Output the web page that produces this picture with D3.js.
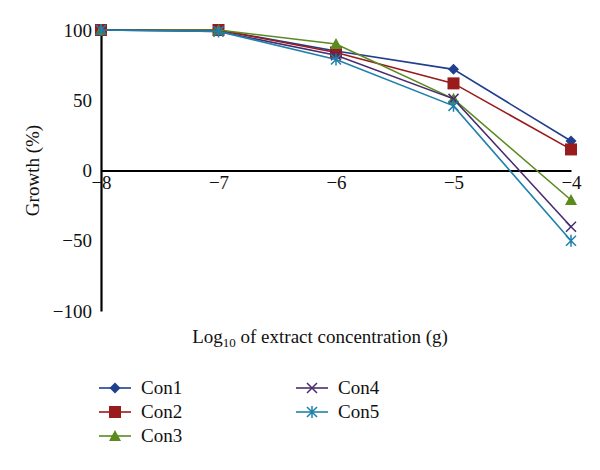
<!DOCTYPE html>
<html><head><meta charset="utf-8">
<script src="https://cdn.jsdelivr.net/npm/d3@7"></script>
<style>body{margin:0;background:#fff}svg{display:block}svg text{font-family:'Liberation Serif','DejaVu Serif',serif !important;fill:#111}</style>
</head><body><svg id="c" width="600" height="470"></svg>
<script>
const xValues = [-8, -7, -6, -5, -4];
const yTicks = [100, 50, 0, -50, -100];
const seriesNames = ["Con1", "Con2", "Con3", "Con4", "Con5"];
const con1 = [100, 100, 85, 72, 21];
const con2 = [100, 100, 84, 62, 15];
const con3 = [100, 100, 90, 51, -21];
const con4 = [100, 99, 82, 51, -40];
const con5 = [100, 99, 79, 46, -50];
const colors = ["#1f3f8f", "#9a1b1b", "#5b8a1f", "#4a2c6e", "#1f80ab"];
const symbols = ["diamond", "square", "triangle", "x", "star"];
const allSeries = [con1, con2, con3, con4, con5];
const FONT = "'Liberation Serif', 'DejaVu Serif', serif";
const FS = 19;

const svg = d3.select("#c");
const x = d3.scaleLinear().domain([-8, -4]).range([101, 571]);
const y = d3.scaleLinear().domain([-100, 100]).range([311, 30]);

// y axis
const yAxis = d3.axisLeft(y).tickValues(yTicks).tickSize(0).tickPadding(9).tickFormat(d => d < 0 ? "\u2212" + Math.abs(d) : d);
const gy = svg.append("g").attr("transform", `translate(${x(-8)},0)`).call(yAxis);
gy.attr("font-family", FONT).attr("font-size", FS);
gy.select(".domain").attr("stroke", "#000").attr("stroke-width", 2.2);
gy.selectAll("text").style("font-family", FONT).attr("font-size", FS).attr("fill", "#111");

// x axis along zero
const xAxis = d3.axisBottom(x).tickValues(xValues).tickSize(0).tickPadding(5).tickFormat(d => "\u2212" + Math.abs(d));
const gx = svg.append("g").attr("transform", `translate(0,${y(0)})`).call(xAxis);
gx.attr("font-family", FONT).attr("font-size", FS);
gx.select(".domain").attr("stroke", "#000").attr("stroke-width", 2);
gx.selectAll("text").style("font-family", FONT).attr("font-size", FS).attr("fill", "#111");

// axis titles
svg.append("text").attr("transform", `translate(39,${y(0)}) rotate(-90)`).attr("text-anchor", "middle")
  .style("font-family", FONT).attr("font-size", FS).text("Growth (%)");
const xt = svg.append("text").attr("x", 320).attr("y", 343).attr("text-anchor", "middle").style("font-family", FONT).attr("font-size", FS);
xt.append("tspan").text("Log");
xt.append("tspan").attr("font-size", 13).attr("dy", 4).text("10");
xt.append("tspan").attr("dy", -4).text(" of extract concentration (g)");

function drawMarker(g, type, color, cx, cy) {
  const m = g.append("g").attr("transform", `translate(${cx},${cy})`);
  if (type === "diamond") {
    m.append("path").attr("d", "M0,-5.5L5.5,0L0,5.5L-5.5,0Z").attr("fill", color);
  } else if (type === "square") {
    m.append("rect").attr("x", -6).attr("y", -6).attr("width", 12).attr("height", 12).attr("fill", color);
  } else if (type === "triangle") {
    m.append("path").attr("d", "M0,-6L6,5L-6,5Z").attr("fill", color);
  } else if (type === "x") {
    m.append("path").attr("d", "M-5,-5L5,5M-5,5L5,-5").attr("stroke", color).attr("stroke-width", 1.5);
  } else {
    m.append("path").attr("d", "M-5,-5L5,5M-5,5L5,-5M0,-6L0,6").attr("stroke", color).attr("stroke-width", 1.5);
  }
}

const line = d3.line().x((d, i) => x(xValues[i])).y(d => y(d));
allSeries.forEach((s, k) => {
  const g = svg.append("g");
  g.append("path").attr("d", line(s)).attr("fill", "none").attr("stroke", colors[k]).attr("stroke-width", 1.6);
  s.forEach((v, i) => drawMarker(g, symbols[k], colors[k], x(xValues[i]), y(v)));
});

// legend
const legPos = [[99, 388], [99, 412], [99, 436], [296, 388], [296, 412]];
seriesNames.forEach((n, k) => {
  const [lx, ly] = legPos[k];
  const g = svg.append("g");
  g.append("line").attr("x1", lx).attr("x2", lx + 32).attr("y1", ly).attr("y2", ly).attr("stroke", colors[k]).attr("stroke-width", 1.6);
  drawMarker(g, symbols[k], colors[k], lx + 16, ly);
  g.append("text").attr("x", lx + 42).attr("y", ly + 6).style("font-family", FONT).attr("font-size", FS).text(n);
});
</script></body></html>
